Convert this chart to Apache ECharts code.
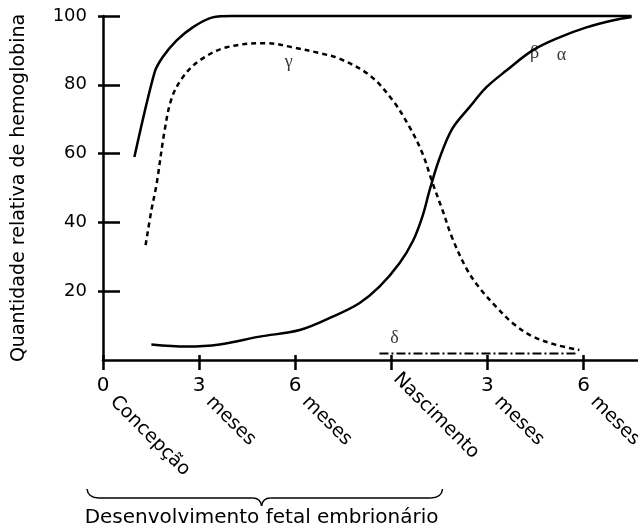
<!DOCTYPE html>
<html>
<head>
<meta charset="utf-8">
<script src="https://cdn.jsdelivr.net/npm/echarts@6/dist/echarts.min.js"></script>
<style>
  html, body { margin: 0; padding: 0; background: #fff; }
  #chart { width: 638px; height: 530px; }
</style>
</head>
<body>
<div id="chart"></div>
<script>
// x = months since conception (birth at 9)
var xTicks = [0, 3, 6, 9, 12, 15];
var xNumbers = ['0', '3', '6', '', '3', '6'];
var xWords = ['Concepção', 'meses', 'meses', 'Nascimento', 'meses', 'meses'];
var yTicks = [20, 40, 60, 80, 100];

var alphaX = [0.98, 1.61, 1.86, 2.3, 2.8, 3.42, 4.05, 6, 10, 16.5];
var alphaY = [59, 83.6, 88, 92.9, 96.7, 99.6, 100, 100, 100, 100];

var betaX = [1.51, 2.6, 3.64, 4.89, 6.14, 7.17, 8.0, 8.63, 9.26, 9.67, 9.98, 10.2, 10.5, 10.9, 11.44, 11.97, 12.6, 13.41, 14.25, 15.09, 15.9, 16.5];
var betaY = [4.5, 3.9, 4.5, 6.8, 8.7, 12.6, 16.5, 21.3, 28.2, 34.5, 42, 49.5, 58.5, 67.2, 73.5, 79.3, 84.2, 90, 93.8, 96.7, 98.7, 99.7];

var gammaX = [1.33, 1.51, 1.67, 1.92, 2.14, 2.49, 3.02, 3.86, 5.1, 5.92, 6.76, 7.38, 8.32, 9.04, 9.57, 9.97, 10.29, 10.6, 10.9, 11.35, 11.75, 12.28, 12.79, 13.42, 14.15, 14.87];
var gammaY = [33.4, 43.5, 51, 66.5, 76, 82.2, 87.1, 90.9, 92.1, 90.9, 89.2, 87.6, 82.8, 75.5, 67.7, 60.1, 51.4, 43.5, 35.5, 26.5, 21, 15.4, 10.7, 6.8, 4.4, 2.9];

var deltaX = [8.63, 14.78];
var deltaY = [1.9, 1.9];

var greekNames = ['γ', 'β', 'α', 'δ'];
var greekX = [5.8, 13.47, 14.31, 9.1];
var greekY = [86.5, 89.2, 88.5, 6.4];

var braceFrom = -0.5, braceMid = 4.95, braceTo = 10.6;
var braceText = 'Desenvolvimento fetal embrionário';

var font = 'DejaVu Sans';
var ink = '#000';

function pairs(xs, ys) {
  return xs.map(function (x, i) { return [x, ys[i]]; });
}

var chart = echarts.init(document.getElementById('chart'));

var baseX = { type: 'value', min: 0, max: 16.7, position: 'bottom', splitLine: { show: false } };
var wordRich = {
  w: { padding: [0, 0, 0, 14], fontSize: 19, fontFamily: font, color: ink },
  n: { padding: [0, 0, 0, 7], fontSize: 19, fontFamily: font, color: ink }
};

chart.setOption({
  animation: false,
  backgroundColor: '#fff',
  grid: { left: 103, top: 16, right: 0, bottom: 170, outerBoundsMode: 'none', containLabel: false },
  xAxis: [
    Object.assign({}, baseX, {
      axisLine: { show: true, onZero: false, lineStyle: { color: ink, width: 2.5 } },
      axisTick: { show: true, customValues: xTicks, length: 10, lineStyle: { color: ink, width: 2.5 } },
      axisLabel: {
        customValues: xTicks, margin: 16, fontSize: 20, fontFamily: font, color: ink,
        formatter: function (v) { return xNumbers[xTicks.indexOf(v)]; }
      }
    }),
    Object.assign({}, baseX, {
      axisLine: { show: false, onZero: false },
      axisTick: { show: true, customValues: xTicks, inside: true, length: 5, lineStyle: { color: ink, width: 2.5 } },
      axisLabel: {
        customValues: xTicks, rotate: -45, margin: 29, rich: wordRich,
        formatter: function (v) { return v === 9 ? '' : '{w|' + xWords[xTicks.indexOf(v)] + '}'; }
      }
    }),
    Object.assign({}, baseX, {
      axisLine: { show: false, onZero: false },
      axisTick: { show: false },
      axisLabel: {
        customValues: [9], rotate: -45, margin: 11, rich: wordRich,
        formatter: function (v) { return '{n|' + xWords[xTicks.indexOf(v)] + '}'; }
      }
    })
  ],
  yAxis: [
    {
      type: 'value', min: 0, max: 100, interval: 20, position: 'left',
      splitLine: { show: false },
      axisLine: { show: true, onZero: false, lineStyle: { color: ink, width: 2.5 } },
      axisTick: { show: true, inside: true, length: 17, customValues: yTicks, lineStyle: { color: ink, width: 2.5 } },
      axisLabel: { customValues: yTicks, margin: 16, fontSize: 18, fontFamily: font, color: ink },
      name: 'Quantidade relativa de hemoglobina',
      nameLocation: 'middle', nameGap: 74,
      nameTextStyle: { fontSize: 19, fontFamily: font, color: ink }
    },
    {
      type: 'value', min: 0, max: 100, interval: 20, position: 'left',
      splitLine: { show: false },
      axisLine: { show: false, onZero: false },
      axisTick: { show: true, inside: false, length: 5, customValues: yTicks, lineStyle: { color: ink, width: 2.5 } },
      axisLabel: { show: false }
    }
  ],
  series: [
    {
      name: 'α', type: 'line', data: pairs(alphaX, alphaY), showSymbol: false, clip: false,
      smooth: 0.3, lineStyle: { color: ink, width: 2.5 }
    },
    {
      name: 'β', type: 'line', data: pairs(betaX, betaY), showSymbol: false, clip: false,
      smooth: 0.35, lineStyle: { color: ink, width: 2.5 }
    },
    {
      name: 'γ', type: 'line', data: pairs(gammaX, gammaY), showSymbol: false, clip: false,
      smooth: 0.35, lineStyle: { color: ink, width: 2.5, type: [5, 4] }
    },
    {
      name: 'δ', type: 'line', data: pairs(deltaX, deltaY), showSymbol: false, clip: false,
      lineStyle: { color: ink, width: 2, type: [9, 3, 2, 3] }
    },
    {
      name: 'labels', type: 'scatter', symbolSize: 1, itemStyle: { color: 'rgba(0,0,0,0)' },
      data: greekX.map(function (x, i) { return [x, greekY[i], greekNames[i]]; }),
      label: {
        show: true, position: 'inside', color: ink, fontSize: 18, fontFamily: 'Liberation Serif',
        formatter: function (p) { return p.data[2]; }
      }
    }
  ]
});

// brace under the prenatal period
var bx0 = chart.convertToPixel({ xAxisIndex: 0 }, braceFrom);
var bxm = chart.convertToPixel({ xAxisIndex: 0 }, braceMid);
var bx1 = chart.convertToPixel({ xAxisIndex: 0 }, braceTo);
var by = 498, byEnd = 489, byTip = 506;
var braceStyle = { stroke: ink, lineWidth: 1.5, fill: null };

function curve(x1, y1, cx, cy, x2, y2) {
  return { type: 'bezierCurve', shape: { x1: x1, y1: y1, cpx1: cx, cpy1: cy, x2: x2, y2: y2 }, style: braceStyle };
}
function seg(x1, y1, x2, y2) {
  return { type: 'line', shape: { x1: x1, y1: y1, x2: x2, y2: y2 }, style: braceStyle };
}

chart.setOption({
  graphic: [
    curve(bx0, byEnd, bx0 + 1, by, bx0 + 12, by),
    seg(bx0 + 12, by, bxm - 9, by),
    curve(bxm - 9, by, bxm - 1, by, bxm, byTip),
    curve(bxm, byTip, bxm + 1, by, bxm + 9, by),
    seg(bxm + 9, by, bx1 - 12, by),
    curve(bx1 - 12, by, bx1 - 1, by, bx1, byEnd),
    {
      type: 'text', x: bxm, y: 518,
      style: { text: braceText, font: '20px "DejaVu Sans"', fill: ink, align: 'center', verticalAlign: 'middle' }
    }
  ]
});
</script>
</body>
</html>
